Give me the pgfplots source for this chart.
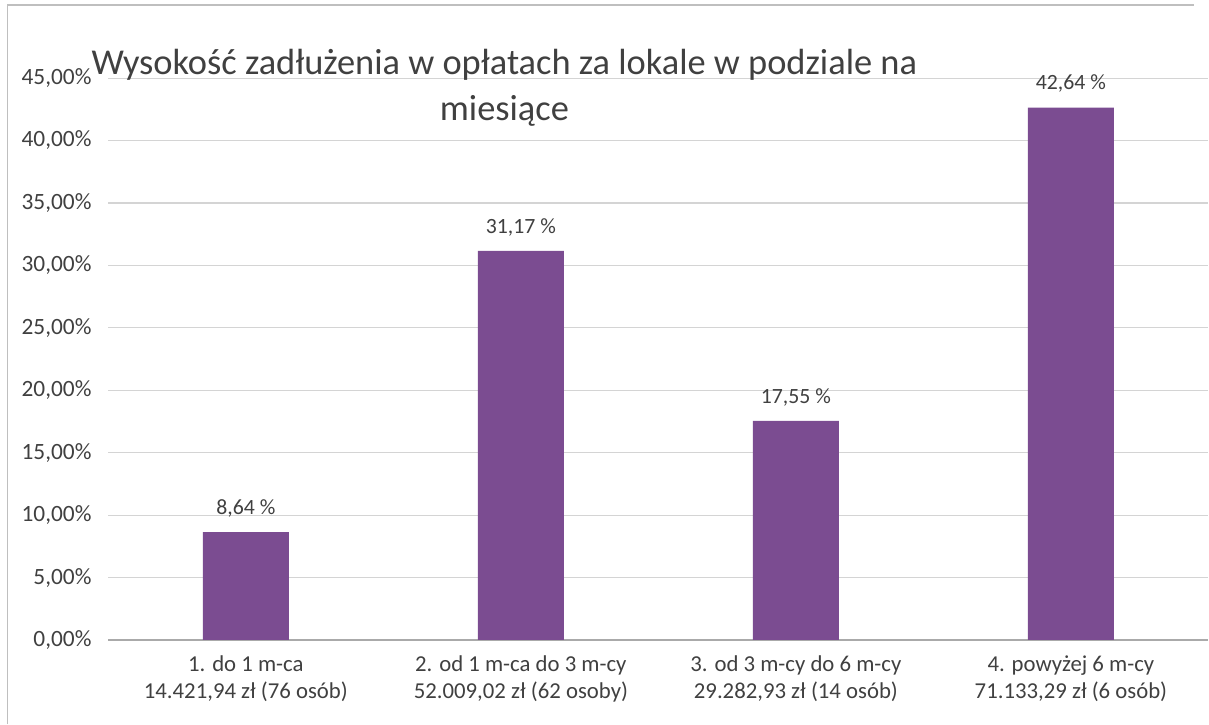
\documentclass[border=0pt]{standalone}
\usepackage{pgfplots}
\pgfplotsset{compat=1.18}
\usepackage{fontspec}
\setmainfont{Carlito}
\definecolor{barpurple}{HTML}{7B4C91}
\definecolor{txtgray}{HTML}{404040}
\definecolor{gridgray}{HTML}{D4D4D4}

\begin{document}
\begin{tikzpicture}
\begin{axis}[
    scale only axis,
    width=556pt, height=284pt,
    ymin=0, ymax=45,
    xmin=-0.5, xmax=3.5,
    ytick={0,5,...,45},
    ymajorgrids,
    grid style={gridgray, line width=0.6pt},
    axis y line*=left,
    y axis line style={draw=none},
    axis x line*=bottom,
    x axis line style={gridgray!80!black, line width=0.6pt, -},
    xtick=data,
    xtick style={draw=none},
    xticklabels={{1. do 1 m-ca\\14.421,94 zł (76 osób)},
                 {2. od 1 m-ca do 3 m-cy\\52.009,02 zł (62 osoby)},
                 {3. od 3 m-cy do 6 m-cy\\29.282,93 zł (14 osób)},
                 {4. powyżej 6 m-cy\\71.133,29 zł (6 osób)}},
    xticklabel style={align=center, font=\fontsize{11.5}{14}\selectfont, text=txtgray},
    /pgf/number format/assume math mode=true,
    yticklabel={\pgfmathprintnumber[fixed,fixed zerofill,precision=2,use comma]{\tick}\%},
    yticklabel style={font=\fontsize{11.8}{12}\selectfont, text=txtgray, xshift=-5pt},
    ytick style={draw=none},
    ybar, bar width=43.5pt,
    nodes near coords={\pgfmathprintnumber[fixed,fixed zerofill,precision=2,use comma]{\pgfplotspointmeta}~\%},
    every node near coord/.append style={font=\fontsize{11}{12}\selectfont, text=txtgray, yshift=4pt},
    clip=false,
]
\addplot[fill=barpurple, draw=none] coordinates {
    (0, 8.64)
    (1, 31.17)
    (2, 17.55)
    (3, 42.64)
};
\node[anchor=north, align=center, text=txtgray, font=\fontsize{18.4}{23.5}\selectfont]
    at (rel axis cs:0.36,1.064) {Wysokość zadłużenia w opłatach za lokale w podziale na\\miesiące};
\draw[gray!50, line width=0.6pt] (rel axis cs:-0.092,-0.15) -- (rel axis cs:-0.092,1.13) -- (rel axis cs:0.987,1.13);
\path (rel axis cs:-0.0985,-0.147) rectangle (rel axis cs:0.987,1.139);
\end{axis}
\end{tikzpicture}
\end{document}
